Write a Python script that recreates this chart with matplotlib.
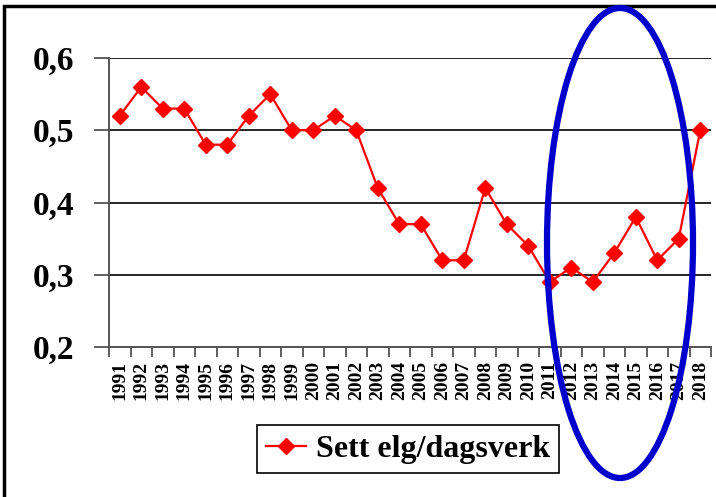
import matplotlib.pyplot as plt
from matplotlib.patches import Ellipse, Rectangle
from matplotlib.ticker import FixedLocator

years = [str(y) for y in range(1991, 2019)]
sett_elg = [0.52, 0.56, 0.53, 0.53, 0.48, 0.48, 0.52, 0.55, 0.50, 0.50,
            0.52, 0.50, 0.42, 0.37, 0.37, 0.32, 0.32, 0.42, 0.37, 0.34,
            0.29, 0.31, 0.29, 0.33, 0.38, 0.32, 0.35, 0.50]
y_ticks = [0.2, 0.3, 0.4, 0.5, 0.6]
y_labels = ["0,2", "0,3", "0,4", "0,5", "0,6"]

plt.rcParams['font.family'] = ['Liberation Serif', 'DejaVu Serif']
plt.rcParams['font.weight'] = 'bold'

W, H = 716, 497
fig = plt.figure(figsize=(W / 100, H / 100), dpi=100)
ax = fig.add_axes([109 / W, 1 - 347 / H, (711 - 109) / W, (347 - 58) / H])

x = list(range(len(years)))
ax.plot(x, sett_elg, color='red', lw=1.6, marker='D', ms=8.5,
        label='Sett elg/dagsverk', zorder=3)

ax.set_xlim(-0.5, len(years) - 0.5)
ax.set_ylim(0.2, 0.6)
ax.set_yticks(y_ticks)
ax.set_yticklabels(y_labels, fontsize=24, fontweight='bold')
ax.yaxis.grid(True, color='black', lw=1.2)
ax.set_axisbelow(True)

ax.set_xticks(x)
ax.set_xticklabels(years, rotation=90, fontsize=14, fontweight='bold')
ax.xaxis.set_minor_locator(FixedLocator([i - 0.5 for i in range(len(years) + 1)]))
ax.tick_params(axis='x', which='major', length=0, pad=10)
ax.tick_params(axis='x', which='minor', length=7, width=1.2, color='#444444')
ax.tick_params(axis='y', length=11, width=1.2, color='#444444', pad=14)

for s in ['top', 'right']:
    ax.spines[s].set_visible(False)
ax.spines['left'].set_color('#555555')
ax.spines['left'].set_linewidth(1.4)
ax.spines['bottom'].set_color('#555555')
ax.spines['bottom'].set_linewidth(1.4)

leg = ax.legend(loc='center', bbox_to_anchor=(408 / W, 1 - 449 / H),
                bbox_transform=fig.transFigure, fancybox=False,
                edgecolor='black', framealpha=1, prop={'size': 23, 'weight': 'bold'},
                handlelength=1.25, borderpad=0.3, handletextpad=0.3)
leg.get_frame().set_linewidth(1.2)

# outer frame
fig.patches.append(Rectangle((4 / W, -0.1), 1.0, 1 - 6 / H + 0.1, transform=fig.transFigure,
                             fill=False, edgecolor='black', lw=2.5))

# highlight ellipse
fig.patches.append(Ellipse((620 / W, 1 - 243 / H), 146 / W, 470 / H, transform=fig.transFigure,
                           fill=False, edgecolor='#0000cc', lw=4.5, zorder=5))

fig.savefig('out.png', dpi=100)
